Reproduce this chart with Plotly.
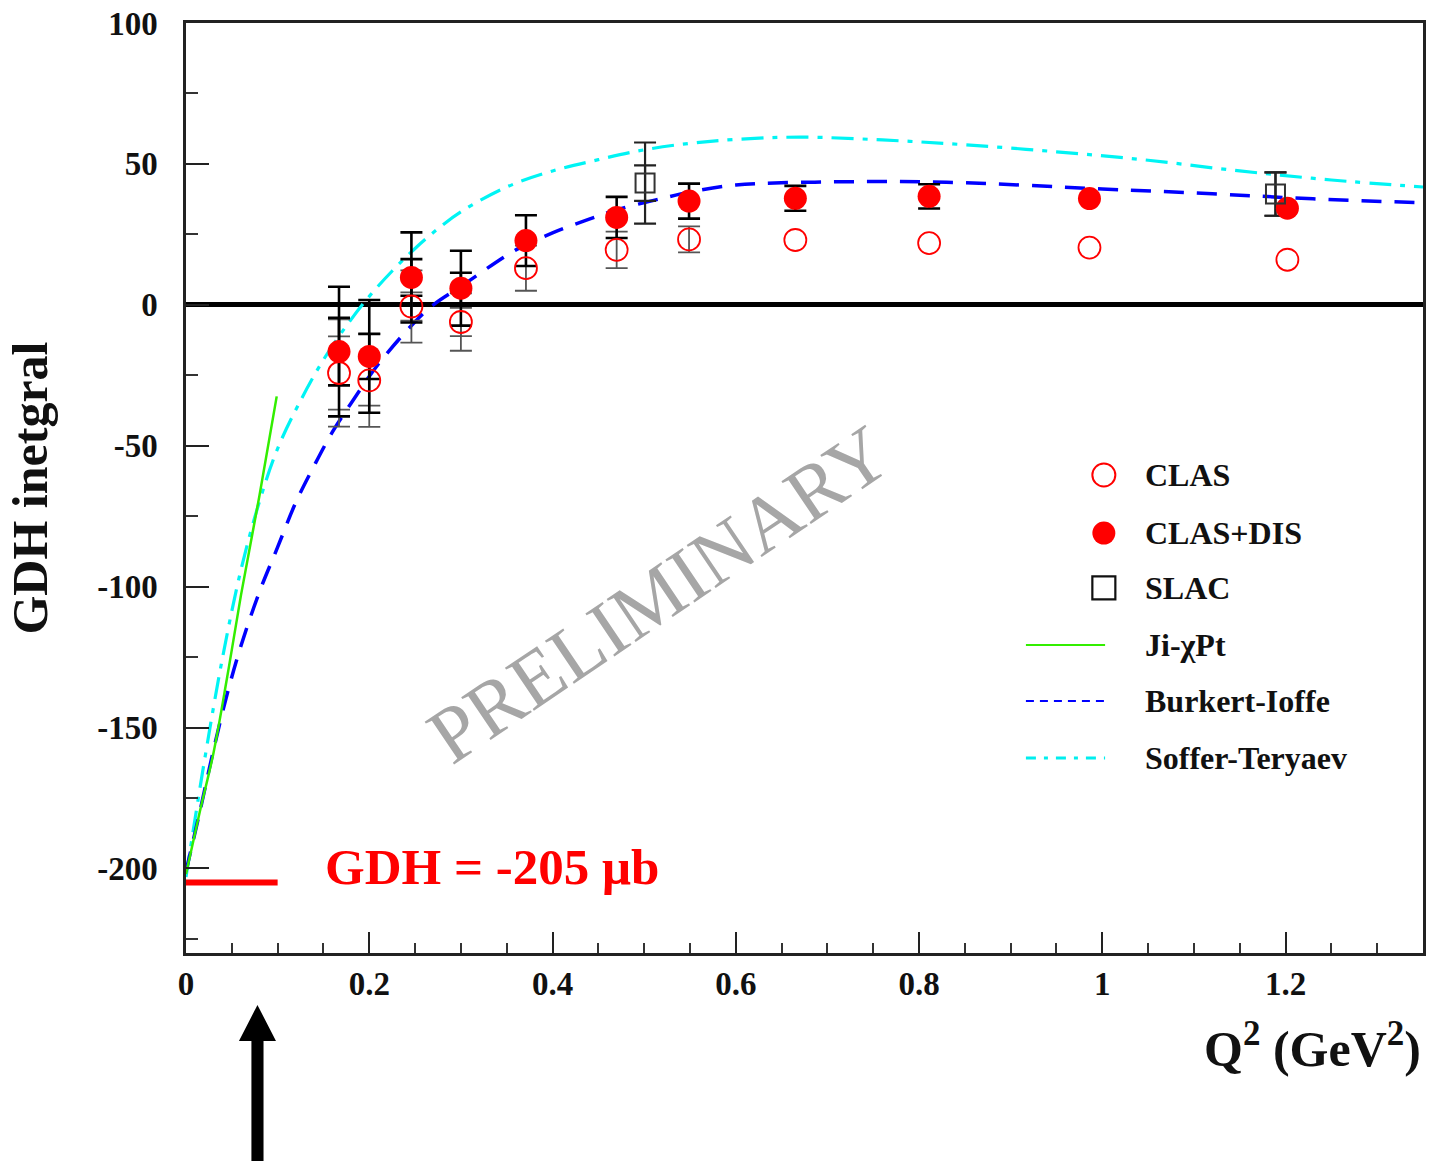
import plotly.graph_objects as go

# ---- measured GDH integral (microbarn) vs Q^2 (GeV^2) ----
q2_clas = [0.167, 0.200, 0.246, 0.300, 0.371, 0.470, 0.549, 0.665, 0.811, 0.986, 1.202]
gdh_clas = [-24.2, -26.8, -0.6, -6.1, 13.0, 19.5, 23.2, 23.0, 21.9, 20.3, 16.0]
clas_err_in = [13.0, 9.0, 5.0, 5.0, 0.0, 0.0, 0.0, 0.0, 0.0, 0.0, 0.0]
clas_err_out = [19.0, 16.5, 12.8, 10.2, 8.0, 6.5, 4.6, 0.0, 0.0, 0.0, 0.0]

gdh_clas_dis = [-16.6, -18.3, 9.7, 5.9, 22.8, 31.0, 36.8, 37.8, 38.5, 37.7, 34.3]
dis_err_in = [12.0, 8.0, 6.5, 5.5, 0.0, 0.0, 0.0, 0.0, 0.0, 0.0, 0.0]
dis_err_out = [23.0, 20.0, 16.0, 13.3, 9.0, 7.3, 6.2, 4.4, 4.3, 0.0, 0.0]

q2_slac = [0.501, 1.189]
gdh_slac = [43.2, 39.3]
slac_err_in = [6.3, 7.7]
slac_err_out = [14.4, 7.7]

# ---- model curves ----
q2_ji = [0.0, 0.015, 0.030, 0.045, 0.060, 0.080, 0.099]
gdh_ji = [-202.0, -180.0, -159.0, -132.0, -103.0, -68.0, -32.5]

q2_bi = [0.0, 0.015, 0.03, 0.045, 0.06, 0.08, 0.10, 0.12, 0.14, 0.16, 0.18, 0.21, 0.25,
         0.27, 0.30, 0.36, 0.40, 0.44, 0.47, 0.52, 0.55, 0.60, 0.70, 0.83, 1.00, 1.12,
         1.23, 1.35]
gdh_bi = [-201.0, -180.0, -158.0, -138.0, -121.0, -102.0, -86.0, -70.0, -57.0, -45.0,
          -35.0, -21.0, -6.0, 0.0, 6.5, 19.5, 25.5, 30.4, 33.7, 37.8, 40.0, 42.5, 43.6,
          43.5, 41.1, 39.4, 37.6, 36.2]

q2_st = [0.0, 0.02, 0.04, 0.06, 0.08, 0.10, 0.125, 0.15, 0.175, 0.20, 0.225, 0.25,
         0.275, 0.30, 0.35, 0.40, 0.45, 0.50, 0.55, 0.60, 0.67, 0.76, 0.85, 0.95, 1.05,
         1.15, 1.25, 1.35]
gdh_st = [-203.0, -162.0, -125.0, -94.0, -70.0, -51.0, -34.0, -19.5, -7.5, 3.0, 12.0,
          20.0, 27.0, 33.0, 41.8, 47.5, 51.5, 55.0, 57.3, 58.7, 59.5, 58.5, 56.8, 54.3,
          51.3, 47.5, 44.3, 41.8]

# sum-rule value at the real-photon point
gdh_sum_rule = -205.0
gdh_bar_q2 = [0.0, 0.1]
arrow_q2 = 0.078

SERIF = "Liberation Serif"
RED = "#ff0000"

fig = go.Figure()

# curves
fig.add_trace(go.Scatter(x=q2_st, y=gdh_st, mode="lines", line_shape="spline",
                         line=dict(color="#00f4f4", width=3.2, dash="22px,9px,5px,9px"),
                         showlegend=False))
fig.add_trace(go.Scatter(x=q2_bi, y=gdh_bi, mode="lines", line_shape="spline",
                         line=dict(color="#0000ff", width=3.5, dash="20px,13px"),
                         showlegend=False))
fig.add_trace(go.Scatter(x=q2_ji, y=gdh_ji, mode="lines", line_shape="spline",
                         line=dict(color="#33ee00", width=2.5),
                         showlegend=False))

# sum-rule bar
fig.add_trace(go.Scatter(x=gdh_bar_q2, y=[gdh_sum_rule] * len(gdh_bar_q2), mode="lines",
                         line=dict(color=RED, width=6), showlegend=False))


def err_trace(x, y, err, color, width):
    keep = [i for i, e in enumerate(err) if e > 0]
    return go.Scatter(
        x=[x[i] for i in keep], y=[y[i] for i in keep], mode="markers",
        marker=dict(size=1, color="rgba(0,0,0,0)"),
        error_y=dict(type="data", array=[err[i] for i in keep], visible=True,
                     color=color, thickness=width, width=11),
        showlegend=False, hoverinfo="skip")


# error bars (outer then inner)
fig.add_trace(err_trace(q2_clas, gdh_clas, clas_err_out, "#555555", 1.8))
fig.add_trace(err_trace(q2_clas, gdh_clas, clas_err_in, "#555555", 1.8))
fig.add_trace(err_trace(q2_clas, gdh_clas_dis, dis_err_out, "#000000", 2.6))
fig.add_trace(err_trace(q2_clas, gdh_clas_dis, dis_err_in, "#000000", 2.6))
fig.add_trace(err_trace(q2_slac, gdh_slac, slac_err_out, "#222222", 2.2))
fig.add_trace(err_trace(q2_slac, gdh_slac, slac_err_in, "#222222", 2.2))

# data markers
fig.add_trace(go.Scatter(x=q2_clas, y=gdh_clas, mode="markers",
                         marker=dict(symbol="circle-open", size=22, color=RED,
                                     line=dict(width=1.8, color=RED)),
                         showlegend=False))
fig.add_trace(go.Scatter(x=q2_clas, y=gdh_clas_dis, mode="markers",
                         marker=dict(symbol="circle", size=23, color=RED),
                         showlegend=False))
fig.add_trace(go.Scatter(x=q2_slac, y=gdh_slac, mode="markers",
                         marker=dict(symbol="square-open", size=19, color="#333333",
                                     line=dict(width=2, color="#333333")),
                         showlegend=False))

# ---- legend drawn on an overlay axis pair (0..1 over the plot area) ----
leg_rows = [0.514, 0.4516, 0.3925, 0.3312, 0.271, 0.2097]
leg_labels = ["CLAS", "CLAS+DIS", "SLAC", "Ji-χPt", "Burkert-Ioffe", "Soffer-Teryaev"]
mk_x = 0.742
ln_x = [0.679, 0.743]

fig.add_trace(go.Scatter(x=[mk_x], y=[leg_rows[0]], xaxis="x2", yaxis="y2", mode="markers",
                         marker=dict(symbol="circle-open", size=23, color=RED,
                                     line=dict(width=2, color=RED)), showlegend=False))
fig.add_trace(go.Scatter(x=[mk_x], y=[leg_rows[1]], xaxis="x2", yaxis="y2", mode="markers",
                         marker=dict(symbol="circle", size=23, color=RED), showlegend=False))
fig.add_trace(go.Scatter(x=[mk_x], y=[leg_rows[2]], xaxis="x2", yaxis="y2", mode="markers",
                         marker=dict(symbol="square-open", size=23, color="#111111",
                                     line=dict(width=2.2, color="#111111")), showlegend=False))
fig.add_trace(go.Scatter(x=ln_x, y=[leg_rows[3]] * 2, xaxis="x2", yaxis="y2", mode="lines",
                         line=dict(color="#33ee00", width=1.8), showlegend=False))
fig.add_trace(go.Scatter(x=ln_x, y=[leg_rows[4]] * 2, xaxis="x2", yaxis="y2", mode="lines",
                         line=dict(color="#0000ff", width=2, dash="8px,6px"), showlegend=False))
fig.add_trace(go.Scatter(x=ln_x, y=[leg_rows[5]] * 2, xaxis="x2", yaxis="y2", mode="lines",
                         line=dict(color="#00eeee", width=3, dash="10px,8px,4px,8px"),
                         showlegend=False))

annotations = []
for row, label in zip(leg_rows, leg_labels):
    annotations.append(dict(x=0.774, y=row, xref="x2", yref="y2", xanchor="left",
                            yanchor="middle", showarrow=False,
                            text="<b>" + label + "</b>",
                            font=dict(family=SERIF, size=32, color="#111111")))

# watermark
annotations.append(dict(x=0.382, y=0.386, xref="paper", yref="paper", showarrow=False,
                        text="PRELIMINARY", textangle=-34,
                        font=dict(family=SERIF, size=79, color="#a6a6a6")))

# sum-rule label
annotations.append(dict(x=0.149, y=-199.5, xref="x", yref="y", xanchor="left",
                        yanchor="middle", showarrow=False,
                        text="<b>GDH = -205 μb</b>",
                        font=dict(family=SERIF, size=51, color=RED)))

# axis titles
annotations.append(dict(x=1.0, y=-0.099, xref="paper", yref="paper", xanchor="right",
                        yanchor="middle", showarrow=False,
                        text="<b>Q<sup>2</sup> (GeV<sup>2</sup>)</b>",
                        font=dict(family=SERIF, size=50, color="#111111")))
annotations.append(dict(x=-0.1265, y=0.5, xref="paper", yref="paper", xanchor="center",
                        yanchor="middle", showarrow=False, textangle=-90,
                        text="<b>GDH inetgral</b>",
                        font=dict(family=SERIF, size=50, color="#111111")))

# arrow below the axis pointing up at the low-Q^2 region
aw_head = 0.0202
aw_shaft = 0.0066
y_tip, y_base, y_end = -0.0559, -0.0946, -0.25
arrow_path = (
    f"M {arrow_q2} {y_tip} L {arrow_q2 + aw_head} {y_base} L {arrow_q2 + aw_shaft} {y_base} "
    f"L {arrow_q2 + aw_shaft} {y_end} L {arrow_q2 - aw_shaft} {y_end} "
    f"L {arrow_q2 - aw_shaft} {y_base} L {arrow_q2 - aw_head} {y_base} Z"
)
shapes = [dict(type="path", xref="x", yref="paper", path=arrow_path,
               fillcolor="black", line=dict(width=0))]

tickfont = dict(family=SERIF, size=33, color="#111111", weight="bold")
y_ticks = [-200, -150, -100, -50, 0, 50, 100]

fig.update_layout(
    width=1440, height=1161,
    margin=dict(l=186, r=17, t=23, b=208),
    paper_bgcolor="white", plot_bgcolor="white",
    showlegend=False,
    annotations=annotations,
    shapes=shapes,
    xaxis=dict(range=[0, 1.35], showgrid=False, zeroline=False, automargin=False,
               showline=True, linecolor="#222222", linewidth=2.5, mirror=True,
               ticks="inside", ticklen=21, tickwidth=2, tickcolor="#222222",
               tickvals=[0, 0.2, 0.4, 0.6, 0.8, 1.0, 1.2],
               ticktext=["0", "0.2", "0.4", "0.6", "0.8", "1", "1.2"],
               minor=dict(ticks="inside", ticklen=10, tickwidth=1.6, tickcolor="#333333",
                          dtick=0.05, tick0=0, showgrid=False),
               tickfont=tickfont, ticklabelstandoff=0),
    yaxis=dict(range=[-230, 100], showgrid=False, automargin=False,
               zeroline=True, zerolinecolor="black", zerolinewidth=4.5,
               showline=True, linecolor="#222222", linewidth=2.5, mirror=True,
               ticks="inside", ticklen=23, tickwidth=2, tickcolor="#222222",
               tickvals=y_ticks, ticktext=[str(v) for v in y_ticks],
               minor=dict(ticks="inside", ticklen=12, tickwidth=1.6, tickcolor="#333333",
                          dtick=25, tick0=0, showgrid=False),
               tickfont=tickfont, ticklabelstandoff=19),
    xaxis2=dict(overlaying="x", range=[0, 1], visible=False),
    yaxis2=dict(overlaying="y", range=[0, 1], visible=False),
)

fig.write_html("out.html")
